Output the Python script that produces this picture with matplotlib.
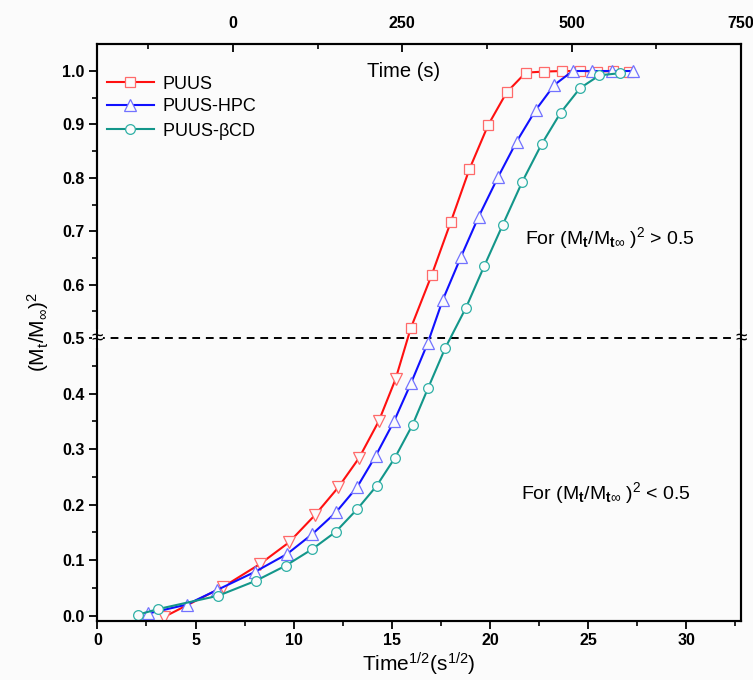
import numpy as np
import matplotlib.pyplot as plt
from matplotlib.ticker import MultipleLocator, FormatStrFormatter

plt.rcParams['font.family'] = 'Liberation Sans'
plt.rcParams['mathtext.fontset'] = 'custom'
plt.rcParams['mathtext.rm'] = 'Liberation Sans'
plt.rcParams['mathtext.it'] = 'Liberation Sans:italic'
plt.rcParams['mathtext.bf'] = 'Liberation Sans:bold'
plt.rcParams['mathtext.default'] = 'regular'

# data: x = Time^1/2 (s^1/2), y = (Mt/Minf)^2
puus_x = [3.41, 6.41, 8.28, 9.76, 11.08, 12.27, 13.33, 14.33, 15.19,
          15.96, 17.03, 18.00, 18.95, 19.91, 20.85, 21.82, 22.77, 23.67,
          24.58, 25.45, 26.27, 27.08]
puus_y = [-0.002, 0.052, 0.093, 0.132, 0.181, 0.231, 0.284, 0.350, 0.426,
          0.518, 0.618, 0.717, 0.816, 0.899, 0.960, 0.997, 0.999, 1.0,
          1.0, 0.999, 1.0, 0.998]

hpc_x = [2.59, 4.55, 6.08, 8.03, 9.66, 10.95, 12.15, 13.24, 14.18, 15.11,
         15.98, 16.83, 17.59, 18.51, 19.42, 20.42, 21.36, 22.33, 23.28,
         24.21, 25.18, 26.20, 27.30]
hpc_y = [0.004, 0.020, 0.046, 0.079, 0.111, 0.147, 0.186, 0.232, 0.288,
         0.350, 0.419, 0.491, 0.571, 0.651, 0.727, 0.802, 0.868, 0.927,
         0.974, 1.0, 1.0, 1.0, 1.0]

bcd_x = [2.08, 3.10, 6.16, 8.08, 9.59, 10.95, 12.14, 13.24, 14.23, 15.15,
         16.06, 16.86, 17.72, 18.78, 19.71, 20.65, 21.65, 22.63, 23.60,
         24.59, 25.58, 26.64]
bcd_y = [0.002, 0.012, 0.036, 0.063, 0.090, 0.120, 0.151, 0.192, 0.234,
         0.284, 0.344, 0.411, 0.482, 0.557, 0.635, 0.712, 0.793, 0.863,
         0.922, 0.968, 0.992, 0.996]

top_ticks = [0, 250, 500, 750]


# the original is two panels glued at 0.5, upper half is a bit squeezed
def fwd(y):
    y = np.asarray(y, dtype=float)
    return np.where(y < 0.5, y, 0.5 + (y - 0.5) * 0.962)


def inv(u):
    u = np.asarray(u, dtype=float)
    return np.where(u < 0.5, u, 0.5 + (u - 0.5) / 0.962)


bg = '#fbfbfb'
fig = plt.figure(figsize=(7.53, 6.8), dpi=100, facecolor=bg)
ax = fig.add_axes([0.1293, 0.0868, 0.8548, 0.8485], facecolor=bg)
ax.set_yscale('function', functions=(fwd, inv))

px = np.array(puus_x)
py = np.array(puus_y)
upper = py >= 0.5

ax.plot(px, py, color='#ff1010', lw=1.5, marker='s', markevery=list(upper),
        ms=6.5, mfc=bg, mec='#ff6a6a', mew=0.9, label='PUUS', zorder=3)
ax.plot(px[~upper], py[~upper], 'v', ms=8, mfc=bg, mec='#ff6a6a', mew=0.9,
        zorder=3)
ax.plot(hpc_x, hpc_y, color='#1010ff', lw=1.5, marker='^', ms=8, mfc=bg,
        mec='#7272ff', mew=0.9, label='PUUS-HPC', zorder=4)
ax.plot(bcd_x, bcd_y, color='#13968a', lw=1.5, marker='o', ms=7, mfc=bg,
        mec='#2fb0a6', mew=0.9, label=r'PUUS-$\beta$CD', zorder=5)

ax.axhline(0.5, color='black', lw=1.4, ls=(0, (4, 3)), zorder=2)

ax.set_xlim(0, 32.79)
ax.set_ylim(-0.0095, 1.0506)
ax.set_xticks([0, 5, 10, 15, 20, 25, 30])
ax.xaxis.set_minor_locator(MultipleLocator(2.5))
ax.set_yticks(np.round(np.arange(0, 1.01, 0.1), 1))
ax.set_yticks(np.arange(0.05, 1.0, 0.1), minor=True)
ax.yaxis.set_major_formatter(FormatStrFormatter('%.1f'))
ax.tick_params(which='major', direction='out', length=6, width=1.3,
               labelsize=11.5, pad=3)
ax.tick_params(which='minor', direction='out', length=3.5, width=1.2)
ax.tick_params(right=False, top=False)
for lab in ax.get_xticklabels() + ax.get_yticklabels():
    lab.set_fontweight('bold')
for sp in ax.spines.values():
    sp.set_linewidth(1.5)

ax.set_xlabel(r'Time$^{1/2}$(s$^{1/2}$)', fontsize=15, labelpad=2)
ax.set_ylabel(r'(M$_t$/M$_\infty$)$^2$', fontsize=15, labelpad=8)

ax2 = ax.twiny()
ax2.set_xlim(-200, 750)
ax2.set_xticks(top_ticks)
ax2.xaxis.set_minor_locator(MultipleLocator(125))
ax2.tick_params(which='major', direction='in', length=6, width=1.3,
                labelsize=11.5, pad=9)
ax2.tick_params(which='minor', direction='in', length=3.5, width=1.2)
for lab in ax2.get_xticklabels():
    lab.set_fontweight('bold')
for sp in ax2.spines.values():
    sp.set_linewidth(1.5)

ax.text(0.475, 0.953, 'Time (s)', transform=ax.transAxes, fontsize=14.5,
        ha='center', va='center')

ax.legend(loc='upper left', bbox_to_anchor=(0.015, 0.945), frameon=False,
          fontsize=13, handlelength=2.6, handletextpad=0.45,
          labelspacing=0.3, borderpad=0, borderaxespad=0)

ax.text(0.664, 0.664, r'For (M$_\mathbf{t}$/M$_{\mathbf{t}\infty}$ )$^2$ > 0.5',
        transform=ax.transAxes, fontsize=14, ha='left', va='center')
ax.text(0.658, 0.222, r'For (M$_\mathbf{t}$/M$_{\mathbf{t}\infty}$ )$^2$ < 0.5',
        transform=ax.transAxes, fontsize=14, ha='left', va='center')

# axis break marks
for xa in (0, 1):
    ax.text(xa, 0.5, '\u2248', transform=ax.get_yaxis_transform(),
            ha='center', va='center', fontsize=15, zorder=6,
            bbox=dict(fc=bg, ec='none', pad=0))

fig.savefig('out.png', dpi=100, facecolor=bg)
